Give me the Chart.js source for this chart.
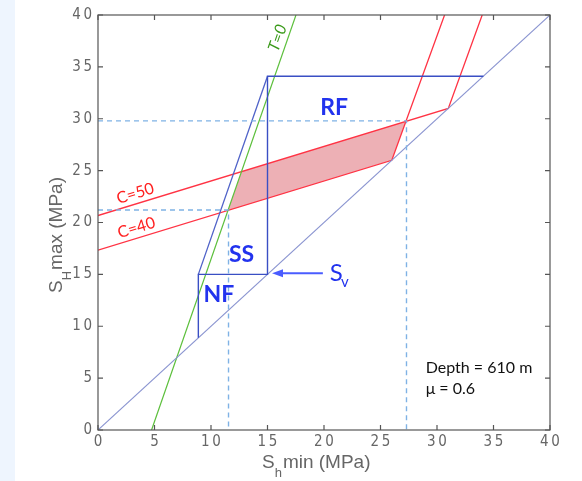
<!DOCTYPE html>
<html>
<head>
<meta charset="utf-8">
<script src="https://cdn.jsdelivr.net/npm/chart.js@4.4.1/dist/chart.umd.min.js"></script>
<style>
  body { margin: 0; background: linear-gradient(to right, #eef5fe 15px, #ffffff 15px); }
  #wrap { width: 582px; height: 481px; position: relative; }
</style>
</head>
<body>
<div id="wrap"><canvas id="myChart"></canvas></div>
<script>
// axis ticks
const xTicks = [0, 5, 10, 15, 20, 25, 30, 35, 40];
const yTicks = [0, 5, 10, 15, 20, 25, 30, 35, 40];

// Sh min (x) / SH max (y), MPa
const diagonalX = [0, 40];
const diagonalY = [0, 40];
const polygonX = [8.88, 8.88, 15, 15, 34.1];
const polygonY = [8.88, 15, 15, 34.1, 34.1];
const ssLimitX = [8.88, 15];
const ssLimitY = [15, 34.1];
const tZeroX = [4.74, 17.52];
const tZeroY = [0, 40];
const c50X = [0, 31, 34];
const c50Y = [20.67, 31, 40];
const c40X = [0, 26, 30.67];
const c40Y = [17.33, 26, 40];
const bandX = [11.5, 12.7, 27.25, 26, 11.5];
const bandY = [21.16, 24.9, 29.75, 26, 21.16];
const lowGuideX = [0, 11.55, 11.55];
const lowGuideY = [21.2, 21.2, 0];
const highGuideX = [0, 27.3, 27.3];
const highGuideY = [29.8, 29.8, 0];

const pts = (xs, ys) => xs.map((x, i) => ({ x: x, y: ys[i] }));

const line = (data, color, extra) => Object.assign({
    data: data,
    showLine: true,
    borderColor: color,
    borderWidth: 1,
    pointRadius: 0,
    fill: false,
    tension: 0,
}, extra || {});

// labels, drawn over the plot
const decorations = {
    id: 'decorations',
    afterDatasetsDraw(chart) {
        const { ctx, chartArea: a, scales: { x, y } } = chart;
        const px = v => x.getPixelForValue(v);
        const py = v => y.getPixelForValue(v);
        ctx.save();

        // frame + inward ticks
        ctx.strokeStyle = '#555';
        ctx.lineWidth = 1.2;
        ctx.strokeRect(a.left, a.top, a.right - a.left, a.bottom - a.top);
        ctx.beginPath();
        x.ticks.forEach(t => {
            const p = px(t.value);
            ctx.moveTo(p, a.bottom); ctx.lineTo(p, a.bottom - 5);
            ctx.moveTo(p, a.top); ctx.lineTo(p, a.top + 5);
        });
        y.ticks.forEach(t => {
            const p = py(t.value);
            ctx.moveTo(a.left, p); ctx.lineTo(a.left + 5, p);
            ctx.moveTo(a.right, p); ctx.lineTo(a.right - 5, p);
        });
        ctx.stroke();

        // region labels
        ctx.fillStyle = '#2233ee';
        ctx.font = 'bold 23px Lato';
        ctx.textAlign = 'center';
        ctx.textBaseline = 'middle';
        ctx.fillText('RF', px(20.9), py(31.1));
        ctx.fillText('SS', px(12.7), py(16.9));
        ctx.fillText('NF', px(10.7), py(13.1));

        // Sv arrow
        ctx.strokeStyle = '#4a5cff';
        ctx.fillStyle = '#4a5cff';
        ctx.lineWidth = 2;
        const ay = py(15.1);
        ctx.beginPath();
        ctx.moveTo(px(19.9), ay); ctx.lineTo(px(15.4) + 8, ay);
        ctx.stroke();
        ctx.beginPath();
        ctx.moveTo(px(15.4), ay);
        ctx.lineTo(px(15.4) + 11, ay - 4);
        ctx.lineTo(px(15.4) + 11, ay + 4);
        ctx.closePath();
        ctx.fill();
        ctx.fillStyle = '#2233ee';
        ctx.textAlign = 'left';
        ctx.textBaseline = 'alphabetic';
        ctx.font = '24px Lato';
        ctx.fillText('S', px(20.5), py(14.4));
        ctx.font = '15px Lato';
        ctx.fillText('v', px(21.5), py(13.8));

        // rotated line labels
        const rot = (text, cx, cy, xs, ys, font, color) => {
            const ang = Math.atan2(py(ys[1]) - py(ys[0]), px(xs[1]) - px(xs[0]));
            ctx.save();
            ctx.translate(px(cx), py(cy));
            ctx.rotate(ang);
            ctx.font = font;
            ctx.fillStyle = color;
            ctx.textAlign = 'center';
            ctx.textBaseline = 'middle';
            ctx.fillText(text, 0, 0);
            ctx.restore();
        };
        rot('C=50', 3.3, 22.8, c50X, c50Y, '16px Lato', '#ff2020');
        rot('C=40', 3.4, 19.5, c40X, c40Y, '16px Lato', '#ff2020');
        rot('T=0', 15.9, 37.8, tZeroX, tZeroY, 'italic 16px Lato', '#3a9a1a');

        // notes
        ctx.fillStyle = '#111';
        ctx.font = '16px Lato';
        ctx.textAlign = 'left';
        ctx.fillText('Depth = 610 m', px(29.0), py(5.5));
        ctx.fillText('\u03bc = 0.6', px(29.0), py(3.5));

        // axis titles
        ctx.fillStyle = '#666';
        ctx.font = '19px "Liberation Sans"';
        ctx.textBaseline = 'alphabetic';
        let tx = 262;
        ctx.fillText('S', tx, 468);
        tx += ctx.measureText('S').width;
        ctx.font = '13px "Liberation Sans"';
        ctx.fillText('h', tx, 477);
        tx += ctx.measureText('h').width + 1;
        ctx.font = '19px "Liberation Sans"';
        ctx.fillText('min (MPa)', tx, 468);

        ctx.save();
        ctx.translate(62, 293);
        ctx.rotate(-Math.PI / 2);
        let ty = 0;
        ctx.fillText('S', ty, 0);
        ty += ctx.measureText('S').width;
        ctx.font = '13px "Liberation Sans"';
        ctx.fillText('H', ty, 9);
        ty += ctx.measureText('H').width + 1;
        ctx.font = '19px "Liberation Sans"';
        ctx.fillText('max (MPa)', ty, 0);
        ctx.restore();

        ctx.restore();
    }
};

const tickFont = { family: '"Liberation Sans Narrow", "DejaVu Sans Condensed", sans-serif', size: 15 };
const spaced = v => String(v).split('').join('\u2009');

const ctx = document.querySelector('#myChart').getContext('2d');
const myChart = new Chart(ctx, {
    type: 'scatter',
    data: {
        datasets: [
            line(pts(lowGuideX, lowGuideY), '#7fb2e5', { borderDash: [5, 4], borderWidth: 1.4 }),
            line(pts(highGuideX, highGuideY), '#7fb2e5', { borderDash: [5, 4], borderWidth: 1.4 }),
            line(pts(polygonX, polygonY), '#3a4fc4', { borderWidth: 1.4 }),
            line(pts(ssLimitX, ssLimitY), '#4f62c8', { borderWidth: 1.3 }),
            line(pts(diagonalX, diagonalY), '#8a94d0', { borderWidth: 1.1 }),
            line(pts(tZeroX, tZeroY), '#5cbf3c', { borderWidth: 1.2 }),
            line(pts(c50X, c50Y), '#ff3344', { borderWidth: 1.3 }),
            line(pts(c40X, c40Y), '#ff3344', { borderWidth: 1.3 }),
            line(pts(bandX, bandY), 'rgba(0,0,0,0)', { borderWidth: 0, fill: 'shape', backgroundColor: 'rgba(215, 80, 90, 0.45)' }),
        ]
    },
    options: {
        responsive: true,
        maintainAspectRatio: false,
        animation: false,
        layout: { padding: { top: 15, right: 32, left: 0, bottom: 0 } },
        plugins: {
            legend: { display: false },
            tooltip: { enabled: false },
        },
        scales: {
            x: {
                type: 'linear',
                min: 0,
                max: 40,
                afterBuildTicks: s => { s.ticks = xTicks.map(v => ({ value: v })); },
                afterFit: s => { s.height = 51; },
                grid: { display: false, drawTicks: false },
                border: { display: false },
                ticks: { color: '#666', font: tickFont, padding: 3, maxRotation: 0, callback: spaced },
            },
            y: {
                type: 'linear',
                min: 0,
                max: 40,
                afterBuildTicks: s => { s.ticks = yTicks.map(v => ({ value: v })); },
                afterFit: s => { s.width = 98; },
                grid: { display: false, drawTicks: false },
                border: { display: false },
                ticks: { color: '#666', font: tickFont, padding: 6, callback: spaced },
            },
        },
    },
    plugins: [decorations],
});
</script>
</body>
</html>
